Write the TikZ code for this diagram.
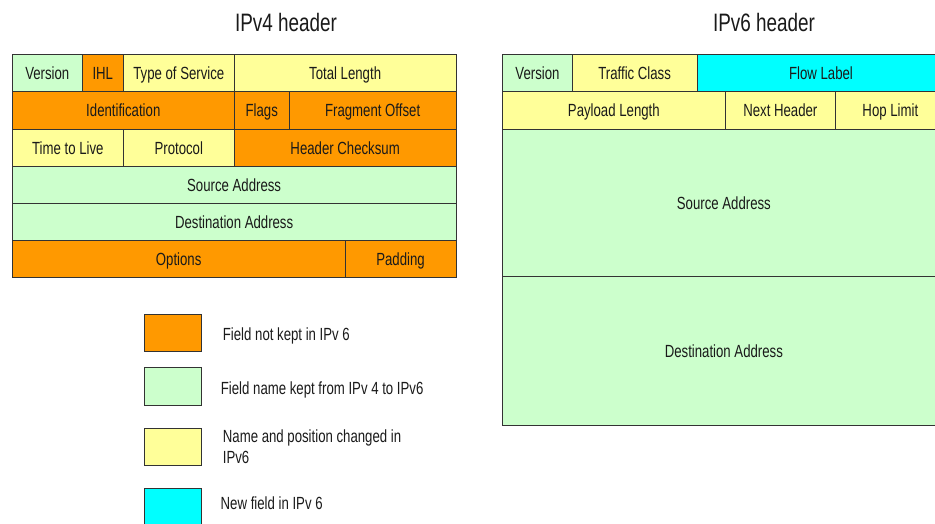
\documentclass[tikz,border=0pt]{standalone}
\usepackage{fontspec}
\newfontfamily\narrowfont[FakeStretch=0.75]{Liberation Sans}
\definecolor{og}{HTML}{FF9900}
\definecolor{gr}{HTML}{CCFFCC}
\definecolor{yl}{HTML}{FFFF99}
\definecolor{cy}{HTML}{00FFFF}
\definecolor{linec}{HTML}{333333}
\definecolor{textc}{HTML}{1A1A1A}
\tikzset{
  field/.style={draw=linec, line width=1pt, inner sep=0pt, outer sep=0pt, anchor=north west,
    font=\narrowfont\fontsize{17.6}{21}\selectfont, text=textc, text height=13pt, text depth=0pt},
  legbox/.style={draw=linec, line width=1pt, inner sep=0pt, anchor=north west,
    minimum width=56.5pt, minimum height=37.3pt},
  legtext/.style={anchor=west, inner sep=0pt, align=left,
    font=\narrowfont\fontsize{17.6}{21}\selectfont, text=textc},
  legone/.style={legtext, text height=13pt, text depth=0pt},
  title/.style={inner sep=0pt, font=\narrowfont\fontsize{25.2}{30}\selectfont, text=textc}
}
\begin{document}
\begin{tikzpicture}[x=1pt,y=-1pt]
\useasboundingbox (0,0) rectangle (935,523);
\clip (0,0) rectangle (935,523);
% titles
\node[title] (t4) at (286,22) {IPv4 header};
\node[title] (t6) at (764,22) {IPv6 header};
% IPv4 header, row 1
\node[field, fill=gr, minimum width=70pt,  minimum height=37pt] (v4ver) at (12.3,54.7) {Version};
\node[field, fill=og, minimum width=41pt,  minimum height=37pt] (v4ihl) at (82.3,54.7) {IHL};
\node[field, fill=yl, minimum width=111pt, minimum height=37pt] (v4tos) at (123.3,54.7) {Type of Service};
\node[field, fill=yl, minimum width=221.7pt, minimum height=37pt] (v4tl) at (234.3,54.7) {Total Length};
% row 2
\node[field, fill=og, minimum width=222pt, minimum height=37.3pt] (v4id) at (12.3,91.7) {Identification};
\node[field, fill=og, minimum width=55pt,  minimum height=37.3pt] (v4fl) at (234.3,91.7) {Flags};
\node[field, fill=og, minimum width=166.7pt, minimum height=37.3pt] (v4fo) at (289.3,91.7) {Fragment Offset};
% row 3
\node[field, fill=yl, minimum width=111pt, minimum height=37pt] (v4ttl) at (12.3,129) {Time to Live};
\node[field, fill=yl, minimum width=111pt, minimum height=37pt] (v4pr) at (123.3,129) {Protocol};
\node[field, fill=og, minimum width=221.7pt, minimum height=37pt] (v4hc) at (234.3,129) {Header Checksum};
% rows 4-6
\node[field, fill=gr, minimum width=443.7pt, minimum height=37pt] (v4src) at (12.3,166) {Source Address};
\node[field, fill=gr, minimum width=443.7pt, minimum height=37pt] (v4dst) at (12.3,203) {Destination Address};
\node[field, fill=og, minimum width=332.7pt, minimum height=37pt] (v4opt) at (12.3,240) {Options};
\node[field, fill=og, minimum width=111pt, minimum height=37pt] (v4pad) at (345,240) {Padding};
% IPv6 header
\node[field, fill=gr, minimum width=69.6pt, minimum height=37pt] (v6ver) at (502.7,54.7) {Version};
\node[field, fill=yl, minimum width=124.7pt, minimum height=37pt] (v6tc) at (572.3,54.7) {Traffic Class};
\node[field, fill=cy, minimum width=248pt, minimum height=37pt] (v6fl) at (697,54.7) {Flow Label};
\node[field, fill=yl, minimum width=222.3pt, minimum height=37.3pt] (v6pl) at (502.7,91.7) {Payload Length};
\node[field, fill=yl, minimum width=110.7pt, minimum height=37.3pt] (v6nh) at (725,91.7) {Next Header};
\node[field, fill=yl, minimum width=109.3pt, minimum height=37.3pt] (v6hl) at (835.7,91.7) {Hop Limit};
\node[field, fill=gr, minimum width=442.3pt, minimum height=147.7pt] (v6src) at (502.7,129) {Source Address};
\node[field, fill=gr, minimum width=442.3pt, minimum height=148.3pt] (v6dst) at (502.7,276.7) {Destination Address};
% legend
\node[legbox, fill=og] (l1) at (144,314) {};
\node[legbox, fill=gr] (l2) at (144,367.3) {};
\node[legbox, fill=yl] (l3) at (144,427.7) {};
\node[legbox, fill=cy] (l4) at (144,488.3) {};
\node[legone] (lt1) at (222.7,334) {Field not kept in IPv 6};
\node[legone] (lt2) at (220.7,388) {Field name kept from IPv 4 to IPv6};
\node[legtext] (lt3) at (222.7,446.3) {Name and position changed in\\IPv6};
\node[legone] (lt4) at (220.5,502.7) {New field in IPv 6};
\end{tikzpicture}
\end{document}
